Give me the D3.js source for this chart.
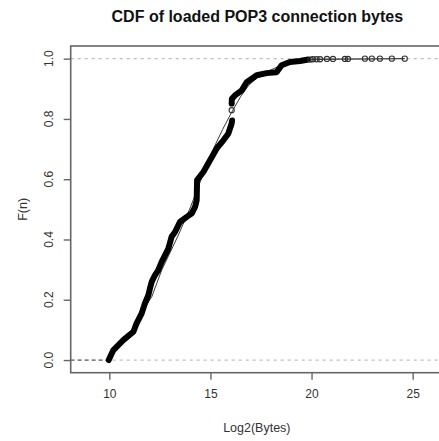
<!DOCTYPE html>
<html>
<head>
<meta charset="utf-8">
<script src="https://cdn.jsdelivr.net/npm/d3@7"></script>
<style>
  html, body { margin: 0; padding: 0; background: #fff; }
  svg { display: block; font-family: "Liberation Sans", Arial, sans-serif; }
</style>
</head>
<body>
<svg id="chart" width="439" height="441"></svg>
<script>
// ---- data (x = log2(bytes), y = F(n)) ----
const denseX = [9.97, 10.20, 10.69, 11.19, 11.35, 11.60, 11.76, 11.93, 12.01, 12.10, 12.26, 12.42, 12.59, 12.92, 13.08, 13.25, 13.49, 13.83, 14.07, 14.24, 14.32, 14.34, 14.65, 14.98, 15.31, 15.64, 15.88, 16.05, 16.07];
const denseF = [0.000, 0.033, 0.066, 0.094, 0.122, 0.155, 0.188, 0.215, 0.238, 0.260, 0.282, 0.298, 0.326, 0.370, 0.409, 0.425, 0.458, 0.475, 0.486, 0.508, 0.530, 0.597, 0.624, 0.663, 0.702, 0.729, 0.751, 0.785, 0.795];
const upperX = [16.05, 16.06, 16.21, 16.55, 16.79, 17.29, 17.78, 18.27, 18.52, 18.93, 19.43, 19.84];
const upperF = [0.851, 0.867, 0.878, 0.895, 0.922, 0.945, 0.952, 0.955, 0.978, 0.989, 0.992, 0.997];
const gapX = [16.05];
const gapF = [0.829];
const tailX = [19.95, 20.07, 20.25, 20.42, 20.76, 21.06, 21.65, 21.80, 22.64, 22.98, 23.38, 23.97, 24.61];
const tailF = [0.997, 0.998, 0.998, 0.998, 0.999, 0.999, 0.999, 0.999, 1.0, 1.0, 1.0, 1.0, 1.0];
const fitX = [9.97, 10.7, 11.2, 11.6, 11.95, 12.10, 12.6, 13.41, 14.0, 14.6, 15.14, 15.6, 16.05, 16.5, 16.9, 17.4, 17.9, 18.5, 19.2, 20.0, 24.61];
const fitF = [0.000, 0.066, 0.105, 0.150, 0.195, 0.210, 0.300, 0.414, 0.505, 0.610, 0.700, 0.765, 0.822, 0.875, 0.912, 0.942, 0.960, 0.978, 0.990, 0.997, 1.0];
const xTicks = [10, 15, 20, 25];
const yTicks = [0, 0.2, 0.4, 0.6, 0.8, 1.0];
const yTickLabels = ["0.0", "0.2", "0.4", "0.6", "0.8", "1.0"];
const titleText = "CDF of loaded POP3 connection bytes";
const xLabel = "Log2(Bytes)";
const yLabel = "F(n)";

// ---- layout ----
const svg = d3.select("#chart");
const pLeft = 70.7, pRight = 444, pTop = 46, pBottom = 372.7;
const x = d3.scaleLinear().domain([8.09, 26.55]).range([pLeft, pRight]);
const y = d3.scaleLinear().domain([-0.042, 1.042]).range([pBottom, pTop]);
const textCol = "#333";
const axisCol = "#666";

// title
svg.append("text").attr("x", (pLeft + pRight) / 2).attr("y", 22)
  .attr("text-anchor", "middle").attr("font-weight", "bold")
  .attr("font-size", 16).attr("fill", "#111").text(titleText);

// reference lines at 0 and 1
svg.append("g").selectAll("line").data([0, 1]).join("line")
  .attr("x1", pLeft).attr("x2", pRight)
  .attr("y1", d => y(d)).attr("y2", d => y(d))
  .attr("stroke", "#bdbdbd").attr("stroke-width", 1.2).attr("stroke-dasharray", "3,4");
// left step segment at 0
svg.append("line").attr("x1", pLeft).attr("x2", x(denseX[0]))
  .attr("y1", y(0)).attr("y2", y(0))
  .attr("stroke", "#666").attr("stroke-width", 1.2).attr("stroke-dasharray", "4,3");
// step segment along 1 through the tail
svg.append("line").attr("x1", x(tailX[0])).attr("x2", x(tailX[tailX.length - 1]))
  .attr("y1", y(1)).attr("y2", y(1))
  .attr("stroke", "#999").attr("stroke-width", 1);

// fitted thin line
const line = d3.line().x(d => x(d[0])).y(d => y(d[1]));
svg.append("path").datum(d3.zip(fitX, fitF)).attr("d", line)
  .attr("fill", "none").attr("stroke", "#222").attr("stroke-width", 0.9);

// dense ECDF band (overlapping points)
[d3.zip(denseX, denseF), d3.zip(upperX, upperF)].forEach(seg => {
  svg.append("path").datum(seg).attr("d", line)
    .attr("fill", "none").attr("stroke", "#000").attr("stroke-width", 6)
    .attr("stroke-linejoin", "round").attr("stroke-linecap", "round");
});

// open circles
const pts = d3.zip(gapX, gapF).concat(d3.zip(tailX, tailF));
svg.append("g").selectAll("circle").data(pts).join("circle")
  .attr("cx", d => x(d[0])).attr("cy", d => y(d[1])).attr("r", 2.6)
  .attr("fill", "none").attr("stroke", "#333").attr("stroke-width", 1.1);

// box
svg.append("rect").attr("x", pLeft).attr("y", pTop)
  .attr("width", pRight - pLeft).attr("height", pBottom - pTop)
  .attr("fill", "none").attr("stroke", axisCol).attr("stroke-width", 1.6);

// x axis
const xa = svg.append("g").attr("transform", `translate(0,${pBottom})`)
  .call(d3.axisBottom(x).tickValues(xTicks).tickSize(7).tickPadding(10).tickFormat(d3.format("d")));
xa.select(".domain").remove();
xa.selectAll("line").attr("stroke", axisCol).attr("stroke-width", 1.4);
xa.selectAll("text").attr("font-size", 12).attr("fill", textCol).attr("font-family", "Liberation Sans, Arial, sans-serif");

// y axis
const ya = svg.append("g").attr("transform", `translate(${pLeft},0)`)
  .call(d3.axisLeft(y).tickValues(yTicks).tickSize(7).tickFormat(""));
ya.select(".domain").remove();
ya.selectAll("line").attr("stroke", axisCol).attr("stroke-width", 1.4);
svg.append("g").selectAll("text").data(yTicks).join("text")
  .attr("transform", (d) => `translate(53,${y(d)}) rotate(-90)`)
  .attr("text-anchor", "middle").attr("font-size", 12).attr("fill", textCol)
  .text((d, i) => yTickLabels[i]);

// axis labels
svg.append("text").attr("x", (pLeft + pRight) / 2 - 0.5).attr("y", 432)
  .attr("text-anchor", "middle").attr("font-size", 12.5).attr("fill", textCol).text(xLabel);
svg.append("text").attr("transform", `translate(27,${(pTop + pBottom) / 2}) rotate(-90)`)
  .attr("text-anchor", "middle").attr("font-size", 12.5).attr("fill", textCol).text(yLabel);
</script>
</body>
</html>
